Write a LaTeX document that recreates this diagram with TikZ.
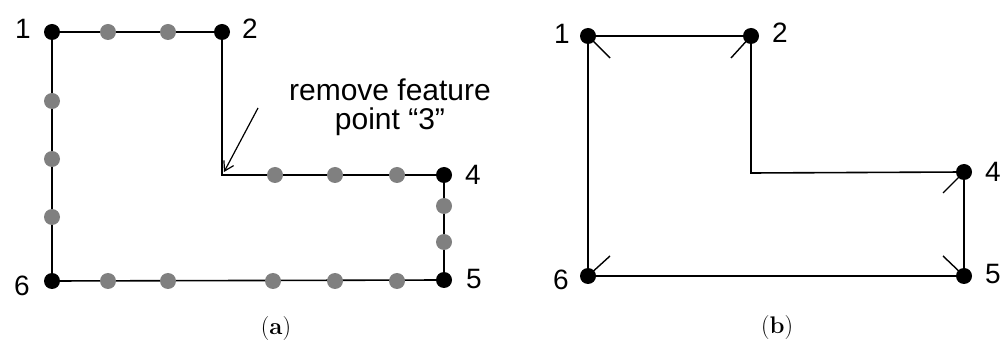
\documentclass[tikz,border=0pt]{standalone}
\usepackage{fontspec}
\newfontfamily\arialfont{Liberation Sans}
\usetikzlibrary{positioning,arrows.meta}
\definecolor{dotgray}{RGB}{128,128,128}
\pgfdeclarelayer{back}
\pgfsetlayers{back,main}

\begin{document}
\begin{tikzpicture}[
    x=1pt, y=-1pt,
    key/.style={%
      circle,
      fill=black,
      inner sep=0pt,
      minimum size=16pt,
    },
    sub/.style={%
      circle,
      fill=dotgray,
      inner sep=0pt,
      minimum size=16pt,
    },
    num/.style={font=\arialfont\fontsize{28}{28}\selectfont, inner sep=0pt},
    note/.style={font=\arialfont\fontsize{30}{29}\selectfont, align=center, inner sep=0pt},
    subcap/.style={font=\fontsize{24}{24}\selectfont, inner sep=0pt},
    edge/.style={line width=1.6pt},
    tick/.style={line width=1.4pt},
  ]
    \useasboundingbox (0,0) rectangle (1004,347);

    % (a) outline with sampled points
    \node [key] (a1) at (52,32) {};
    \node [key] (a2) at (222,32) {};
    \coordinate (a3) at (222,175);
    \node [key] (a4) at (444,175) {};
    \node [key] (a5) at (444,280) {};
    \node [key] (a6) at (52,281) {};

    \foreach \x [count=\i] in {108,168} \node [sub] (top\i) at (\x,32) {};
    \foreach \y [count=\i] in {101,159,217} \node [sub] (lft\i) at (52,\y) {};
    \foreach \x [count=\i] in {275,335,397} \node [sub] (mid\i) at (\x,175) {};
    \foreach \y [count=\i] in {206,242} \node [sub] (rgt\i) at (444,\y) {};
    \foreach \x [count=\i] in {108,168,273,335,397} \node [sub] (bot\i) at (\x,281) {};

    \begin{pgfonlayer}{back}
      \draw [edge] (a1.center) -- (a2.center) -- (a3) -- (a4.center)
        -- (a5.center) -- (a6.center) -- cycle;
    \end{pgfonlayer}

    \path (a1) ++(-29,-3) node [num] {1};
    \path (a2) ++(28,-3) node [num] {2};
    \path (a4) ++(29,0) node [num] {4};
    \path (a5) ++(30,-1) node [num] {5};
    \path (a6) ++(-30,5) node [num] {6};

    \node [note] (remark) at (390,107) {remove feature\\point \char"201C 3\char"201D};
    \coordinate (hint) at (258,108);
    \draw [line width=1.2pt, -{Straight Barb[length=9pt,width=11pt,line width=1.2pt]}]
      (hint) -- ([shift={(2,-3)}]a3);

    \node [subcap] (capA) at (276,329) {(\textbf{a})};

    % (b) simplified outline
    \node [key] (b1) at (588,36) {};
    \node [key] (b2) at (751,36) {};
    \coordinate (b3) at (751,173);
    \node [key] (b4) at (964,172) {};
    \node [key] (b5) at (964,276) {};
    \node [key] (b6) at (588,276) {};

    \begin{pgfonlayer}{back}
      \draw [edge] (b1.center) -- (b2.center) -- (b3) -- (b4.center)
        -- (b5.center) -- (b6.center) -- cycle;
    \end{pgfonlayer}

    \draw [tick] (b1.center) -- ++(22,22);
    \draw [tick] (b2.center) -- ++(-20,22);
    \draw [tick] (b4.center) -- ++(-21,21);
    \draw [tick] (b5.center) -- ++(-21,-20);
    \draw [tick] (b6.center) -- ++(22,-20);

    \path (b1) ++(-26,-2) node [num] {1};
    \path (b2) ++(29,-3) node [num] {2};
    \path (b4) ++(29,0) node [num] {4};
    \path (b5) ++(29,-2) node [num] {5};
    \path (b6) ++(-27,4) node [num] {6};

    \node [subcap] (capB) at (777,328) {(\textbf{b})};
\end{tikzpicture}
\end{document}
